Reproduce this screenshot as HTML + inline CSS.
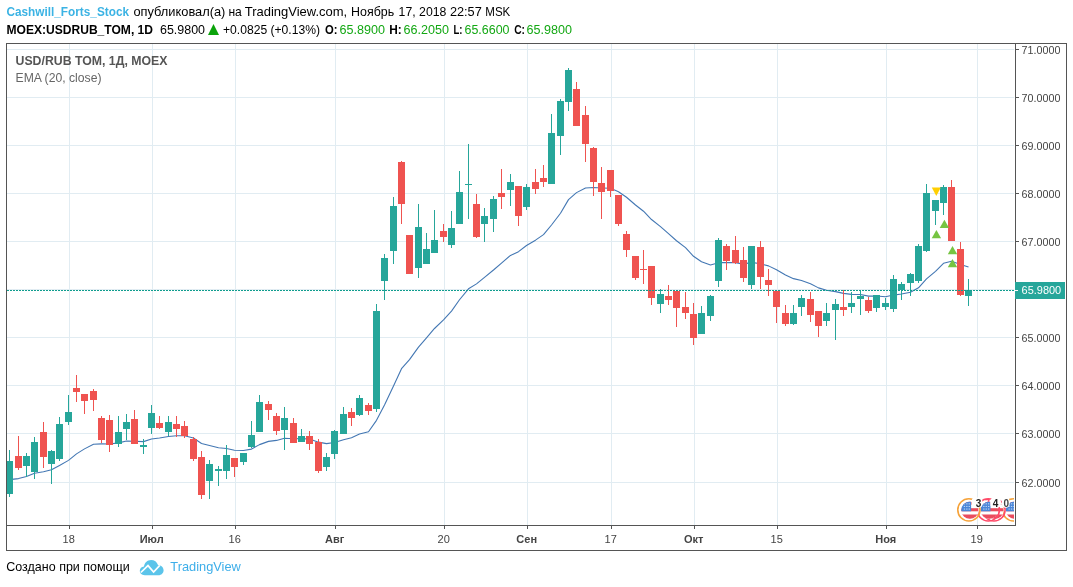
<!DOCTYPE html>
<html><head><meta charset="utf-8"><title>USDRUB_TOM</title>
<style>
html,body{margin:0;padding:0;background:#fff;}
svg{display:block;font-family:"Liberation Sans",sans-serif;will-change:transform;opacity:0.999;}
.ax{font-size:11px;fill:#444;}
.h{font-size:12.5px;fill:#000;}
.b{font-weight:bold;}
.gr{fill:#14a814;}
</style></head><body>
<svg width="1073" height="587" viewBox="0 0 1073 587">
<defs><clipPath id="chartclip"><rect x="7" y="44" width="1008" height="481"/></clipPath><clipPath id="iconclip"><rect x="7" y="44" width="1007" height="481"/></clipPath></defs>
<rect width="1073" height="587" fill="#fff"/>
<!-- header -->
<g class="h">
<text x="6.5" y="15.7" font-size="13" class="b" fill="#3bb3e4" style="fill:#3bb3e4" textLength="122.5" lengthAdjust="spacingAndGlyphs">Cashwill_Forts_Stock</text>
<text x="133.4" y="15.7" font-size="13" textLength="92.0" lengthAdjust="spacingAndGlyphs">опубликовал(а)</text>
<text x="228.4" y="15.7" font-size="13" textLength="13.4" lengthAdjust="spacingAndGlyphs">на</text>
<text x="244.7" y="15.7" font-size="13" textLength="102.5" lengthAdjust="spacingAndGlyphs">TradingView.com,</text>
<text x="351.1" y="15.7" font-size="13" textLength="43.1" lengthAdjust="spacingAndGlyphs">Ноябрь</text>
<text x="398.6" y="15.7" font-size="13" textLength="17.0" lengthAdjust="spacingAndGlyphs">17,</text>
<text x="419.1" y="15.7" font-size="13" textLength="27.3" lengthAdjust="spacingAndGlyphs">2018</text>
<text x="449.9" y="15.7" font-size="13" textLength="31.9" lengthAdjust="spacingAndGlyphs">22:57</text>
<text x="485.3" y="15.7" font-size="13" textLength="25.0" lengthAdjust="spacingAndGlyphs">MSK</text>
<text x="6.5" y="33.5" class="b" textLength="146.5" lengthAdjust="spacingAndGlyphs">MOEX:USDRUB_TOM, 1D</text>
<text x="160" y="33.5" textLength="45" lengthAdjust="spacingAndGlyphs">65.9800</text>
<path d="M208,35 L213.5,24 L219,35 Z" fill="#0ba30b"/>
<text x="223" y="33.5" textLength="97" lengthAdjust="spacingAndGlyphs">+0.0825 (+0.13%)</text>
<text x="325" y="33.5" class="b" textLength="12.5" lengthAdjust="spacingAndGlyphs">O:</text>
<text x="339.5" y="33.5" class="gr" textLength="45.5" lengthAdjust="spacingAndGlyphs">65.8900</text>
<text x="389.2" y="33.5" class="b" textLength="12.5" lengthAdjust="spacingAndGlyphs">H:</text>
<text x="403.5" y="33.5" class="gr" textLength="45.5" lengthAdjust="spacingAndGlyphs">66.2050</text>
<text x="453.5" y="33.5" class="b" textLength="9" lengthAdjust="spacingAndGlyphs">L:</text>
<text x="464.5" y="33.5" class="gr" textLength="45" lengthAdjust="spacingAndGlyphs">65.6600</text>
<text x="514.2" y="33.5" class="b" textLength="10.8" lengthAdjust="spacingAndGlyphs">C:</text>
<text x="526.5" y="33.5" class="gr" textLength="45.5" lengthAdjust="spacingAndGlyphs">65.9800</text>
</g>
<!-- grid -->
<g shape-rendering="crispEdges"><rect x="7" y="49" width="1007" height="1" fill="#e1ecf2"/><rect x="7" y="97" width="1007" height="1" fill="#e1ecf2"/><rect x="7" y="145" width="1007" height="1" fill="#e1ecf2"/><rect x="7" y="193" width="1007" height="1" fill="#e1ecf2"/><rect x="7" y="241" width="1007" height="1" fill="#e1ecf2"/><rect x="7" y="289" width="1007" height="1" fill="#e1ecf2"/><rect x="7" y="337" width="1007" height="1" fill="#e1ecf2"/><rect x="7" y="385" width="1007" height="1" fill="#e1ecf2"/><rect x="7" y="433" width="1007" height="1" fill="#e1ecf2"/><rect x="7" y="482" width="1007" height="1" fill="#e1ecf2"/><rect x="69" y="44" width="1" height="481" fill="#e1ecf2"/><rect x="152" y="44" width="1" height="481" fill="#e1ecf2"/><rect x="235" y="44" width="1" height="481" fill="#e1ecf2"/><rect x="335" y="44" width="1" height="481" fill="#e1ecf2"/><rect x="444" y="44" width="1" height="481" fill="#e1ecf2"/><rect x="527" y="44" width="1" height="481" fill="#e1ecf2"/><rect x="611" y="44" width="1" height="481" fill="#e1ecf2"/><rect x="694" y="44" width="1" height="481" fill="#e1ecf2"/><rect x="777" y="44" width="1" height="481" fill="#e1ecf2"/><rect x="886" y="44" width="1" height="481" fill="#e1ecf2"/><rect x="977" y="44" width="1" height="481" fill="#e1ecf2"/></g>
<!-- legend -->
<text x="15.5" y="65" font-size="12.5" font-weight="bold" fill="#555" textLength="152" lengthAdjust="spacingAndGlyphs">USD/RUB TOM, 1Д, MOEX</text>
<text x="15.5" y="81.7" font-size="12.5" fill="#666" textLength="86" lengthAdjust="spacingAndGlyphs">EMA (20, close)</text>
<!-- candles -->
<g clip-path="url(#chartclip)">
<path d="M1.2,481.30 L9.5,479.67 L18.5,478.58 L26.5,476.46 L34.5,473.21 L43.5,471.69 L51.5,469.75 L59.5,465.42 L68.5,460.36 L76.5,453.88 L84.5,448.87 L93.5,444.25 L101.5,443.87 L109.5,444.01 L118.5,442.89 L126.5,440.93 L134.5,441.25 L143.5,441.64 L151.5,438.94 L159.5,437.93 L168.5,436.44 L176.5,435.76 L184.5,435.81 L193.5,438.05 L201.5,443.50 L209.5,445.48 L218.5,447.75 L226.5,448.47 L234.5,450.26 L243.5,450.55 L251.5,449.10 L259.5,444.64 L268.5,441.37 L276.5,440.41 L284.5,438.31 L293.5,438.78 L301.5,438.55 L309.5,439.09 L318.5,442.16 L326.5,443.60 L334.5,442.43 L343.5,439.75 L351.5,437.71 L359.5,433.96 L368.5,431.80 L376.5,420.32 L384.5,404.89 L393.5,385.98 L401.5,368.68 L409.5,359.69 L418.5,347.08 L426.5,337.77 L434.5,328.48 L443.5,319.80 L451.5,311.09 L459.5,299.77 L468.5,288.78 L476.5,283.87 L484.5,277.44 L493.5,270.00 L501.5,263.07 L510.5,255.38 L518.5,251.66 L526.5,245.53 L535.5,240.17 L543.5,234.66 L551.5,225.01 L560.5,213.23 L568.5,199.61 L576.5,192.63 L585.5,188.03 L593.5,187.48 L601.5,187.94 L610.5,188.26 L618.5,191.69 L626.5,197.28 L635.5,204.99 L643.5,211.21 L651.5,219.51 L660.5,226.63 L668.5,233.65 L676.5,240.76 L685.5,247.66 L693.5,256.30 L701.5,261.73 L710.5,265.02 L718.5,262.66 L726.5,262.53 L735.5,262.61 L743.5,264.10 L751.5,262.41 L760.5,263.82 L768.5,265.87 L776.5,269.82 L785.5,275.00 L793.5,278.65 L801.5,280.52 L810.5,283.84 L818.5,287.88 L826.5,290.30 L835.5,291.63 L843.5,293.41 L851.5,294.35 L860.5,294.54 L868.5,296.13 L876.5,296.06 L885.5,296.75 L893.5,295.08 L901.5,294.06 L910.5,292.18 L918.5,287.81 L926.5,278.81 L935.5,271.33 L943.5,263.33 L951.5,261.23 L960.5,264.47 L968.5,266.93" fill="none" stroke="#4377b3" stroke-width="1.1" stroke-linejoin="round"/>
<g shape-rendering="crispEdges">
<rect x="9" y="450" width="1" height="47" fill="#26a69a"/>
<rect x="6" y="461" width="7" height="33" fill="#26a69a"/>
<rect x="18" y="436" width="1" height="34" fill="#ef5350"/>
<rect x="15" y="456" width="7" height="12" fill="#ef5350"/>
<rect x="26" y="453" width="1" height="24" fill="#26a69a"/>
<rect x="23" y="456" width="7" height="10" fill="#26a69a"/>
<rect x="34" y="437" width="1" height="42" fill="#26a69a"/>
<rect x="31" y="442" width="7" height="30" fill="#26a69a"/>
<rect x="43" y="422" width="1" height="46" fill="#ef5350"/>
<rect x="40" y="432" width="7" height="25" fill="#ef5350"/>
<rect x="51" y="450" width="1" height="34" fill="#26a69a"/>
<rect x="48" y="451" width="7" height="13" fill="#26a69a"/>
<rect x="59" y="417" width="1" height="44" fill="#26a69a"/>
<rect x="56" y="424" width="7" height="35" fill="#26a69a"/>
<rect x="68" y="395" width="1" height="30" fill="#26a69a"/>
<rect x="65" y="412" width="7" height="10" fill="#26a69a"/>
<rect x="76" y="375" width="1" height="27" fill="#ef5350"/>
<rect x="73" y="388" width="7" height="4" fill="#ef5350"/>
<rect x="84" y="394" width="1" height="20" fill="#ef5350"/>
<rect x="81" y="394" width="7" height="7" fill="#ef5350"/>
<rect x="93" y="389" width="1" height="22" fill="#ef5350"/>
<rect x="90" y="391" width="7" height="9" fill="#ef5350"/>
<rect x="101" y="416" width="1" height="27" fill="#ef5350"/>
<rect x="98" y="418" width="7" height="22" fill="#ef5350"/>
<rect x="109" y="415" width="1" height="37" fill="#ef5350"/>
<rect x="106" y="420" width="7" height="25" fill="#ef5350"/>
<rect x="118" y="416" width="1" height="31" fill="#26a69a"/>
<rect x="115" y="432" width="7" height="12" fill="#26a69a"/>
<rect x="126" y="414" width="1" height="26" fill="#26a69a"/>
<rect x="123" y="422" width="7" height="7" fill="#26a69a"/>
<rect x="134" y="410" width="1" height="34" fill="#ef5350"/>
<rect x="131" y="419" width="7" height="25" fill="#ef5350"/>
<rect x="143" y="439" width="1" height="15" fill="#26a69a"/>
<rect x="140" y="445" width="7" height="2" fill="#26a69a"/>
<rect x="151" y="405" width="1" height="29" fill="#26a69a"/>
<rect x="148" y="413" width="7" height="15" fill="#26a69a"/>
<rect x="159" y="416" width="1" height="13" fill="#ef5350"/>
<rect x="156" y="423" width="7" height="5" fill="#ef5350"/>
<rect x="168" y="416" width="1" height="20" fill="#26a69a"/>
<rect x="165" y="422" width="7" height="10" fill="#26a69a"/>
<rect x="176" y="416" width="1" height="21" fill="#ef5350"/>
<rect x="173" y="424" width="7" height="5" fill="#ef5350"/>
<rect x="184" y="421" width="1" height="17" fill="#ef5350"/>
<rect x="181" y="426" width="7" height="10" fill="#ef5350"/>
<rect x="193" y="437" width="1" height="24" fill="#ef5350"/>
<rect x="190" y="439" width="7" height="20" fill="#ef5350"/>
<rect x="201" y="451" width="1" height="48" fill="#ef5350"/>
<rect x="198" y="457" width="7" height="38" fill="#ef5350"/>
<rect x="209" y="460" width="1" height="39" fill="#26a69a"/>
<rect x="206" y="464" width="7" height="17" fill="#26a69a"/>
<rect x="218" y="466" width="1" height="20" fill="#26a69a"/>
<rect x="215" y="469" width="7" height="2" fill="#26a69a"/>
<rect x="226" y="445" width="1" height="34" fill="#26a69a"/>
<rect x="223" y="455" width="7" height="16" fill="#26a69a"/>
<rect x="234" y="458" width="1" height="19" fill="#ef5350"/>
<rect x="231" y="458" width="7" height="9" fill="#ef5350"/>
<rect x="243" y="453" width="1" height="12" fill="#26a69a"/>
<rect x="240" y="453" width="7" height="9" fill="#26a69a"/>
<rect x="251" y="421" width="1" height="27" fill="#26a69a"/>
<rect x="248" y="435" width="7" height="12" fill="#26a69a"/>
<rect x="259" y="395" width="1" height="37" fill="#26a69a"/>
<rect x="256" y="402" width="7" height="30" fill="#26a69a"/>
<rect x="268" y="401" width="1" height="19" fill="#ef5350"/>
<rect x="265" y="404" width="7" height="6" fill="#ef5350"/>
<rect x="276" y="413" width="1" height="22" fill="#ef5350"/>
<rect x="273" y="416" width="7" height="15" fill="#ef5350"/>
<rect x="284" y="407" width="1" height="43" fill="#26a69a"/>
<rect x="281" y="418" width="7" height="12" fill="#26a69a"/>
<rect x="293" y="418" width="1" height="25" fill="#ef5350"/>
<rect x="290" y="423" width="7" height="20" fill="#ef5350"/>
<rect x="301" y="429" width="1" height="13" fill="#26a69a"/>
<rect x="298" y="436" width="7" height="6" fill="#26a69a"/>
<rect x="309" y="431" width="1" height="19" fill="#ef5350"/>
<rect x="306" y="436" width="7" height="8" fill="#ef5350"/>
<rect x="318" y="439" width="1" height="34" fill="#ef5350"/>
<rect x="315" y="442" width="7" height="29" fill="#ef5350"/>
<rect x="326" y="453" width="1" height="18" fill="#26a69a"/>
<rect x="323" y="457" width="7" height="10" fill="#26a69a"/>
<rect x="334" y="430" width="1" height="29" fill="#26a69a"/>
<rect x="331" y="431" width="7" height="23" fill="#26a69a"/>
<rect x="343" y="407" width="1" height="27" fill="#26a69a"/>
<rect x="340" y="414" width="7" height="20" fill="#26a69a"/>
<rect x="351" y="408" width="1" height="18" fill="#ef5350"/>
<rect x="348" y="412" width="7" height="6" fill="#ef5350"/>
<rect x="359" y="395" width="1" height="21" fill="#26a69a"/>
<rect x="356" y="398" width="7" height="17" fill="#26a69a"/>
<rect x="368" y="403" width="1" height="12" fill="#ef5350"/>
<rect x="365" y="405" width="7" height="6" fill="#ef5350"/>
<rect x="376" y="304" width="1" height="108" fill="#26a69a"/>
<rect x="373" y="311" width="7" height="98" fill="#26a69a"/>
<rect x="384" y="254" width="1" height="46" fill="#26a69a"/>
<rect x="381" y="258" width="7" height="23" fill="#26a69a"/>
<rect x="393" y="197" width="1" height="67" fill="#26a69a"/>
<rect x="390" y="206" width="7" height="45" fill="#26a69a"/>
<rect x="401" y="161" width="1" height="63" fill="#ef5350"/>
<rect x="398" y="162" width="7" height="42" fill="#ef5350"/>
<rect x="409" y="235" width="1" height="39" fill="#ef5350"/>
<rect x="406" y="235" width="7" height="39" fill="#ef5350"/>
<rect x="418" y="204" width="1" height="74" fill="#26a69a"/>
<rect x="415" y="227" width="7" height="41" fill="#26a69a"/>
<rect x="426" y="233" width="1" height="31" fill="#26a69a"/>
<rect x="423" y="249" width="7" height="15" fill="#26a69a"/>
<rect x="434" y="210" width="1" height="43" fill="#26a69a"/>
<rect x="431" y="240" width="7" height="13" fill="#26a69a"/>
<rect x="443" y="224" width="1" height="18" fill="#ef5350"/>
<rect x="440" y="231" width="7" height="6" fill="#ef5350"/>
<rect x="451" y="211" width="1" height="37" fill="#26a69a"/>
<rect x="448" y="228" width="7" height="17" fill="#26a69a"/>
<rect x="459" y="171" width="1" height="53" fill="#26a69a"/>
<rect x="456" y="192" width="7" height="32" fill="#26a69a"/>
<rect x="468" y="144" width="1" height="75" fill="#26a69a"/>
<rect x="465" y="184" width="7" height="1" fill="#26a69a"/>
<rect x="476" y="194" width="1" height="44" fill="#ef5350"/>
<rect x="473" y="204" width="7" height="33" fill="#ef5350"/>
<rect x="484" y="208" width="1" height="34" fill="#26a69a"/>
<rect x="481" y="216" width="7" height="8" fill="#26a69a"/>
<rect x="493" y="196" width="1" height="36" fill="#26a69a"/>
<rect x="490" y="199" width="7" height="20" fill="#26a69a"/>
<rect x="501" y="169" width="1" height="40" fill="#ef5350"/>
<rect x="498" y="193" width="7" height="4" fill="#ef5350"/>
<rect x="510" y="174" width="1" height="32" fill="#26a69a"/>
<rect x="507" y="182" width="7" height="8" fill="#26a69a"/>
<rect x="518" y="186" width="1" height="40" fill="#ef5350"/>
<rect x="515" y="186" width="7" height="30" fill="#ef5350"/>
<rect x="526" y="184" width="1" height="26" fill="#26a69a"/>
<rect x="523" y="187" width="7" height="20" fill="#26a69a"/>
<rect x="535" y="169" width="1" height="25" fill="#ef5350"/>
<rect x="532" y="182" width="7" height="7" fill="#ef5350"/>
<rect x="543" y="165" width="1" height="22" fill="#ef5350"/>
<rect x="540" y="178" width="7" height="4" fill="#ef5350"/>
<rect x="551" y="114" width="1" height="70" fill="#26a69a"/>
<rect x="548" y="133" width="7" height="51" fill="#26a69a"/>
<rect x="560" y="99" width="1" height="56" fill="#26a69a"/>
<rect x="557" y="101" width="7" height="35" fill="#26a69a"/>
<rect x="568" y="68" width="1" height="43" fill="#26a69a"/>
<rect x="565" y="70" width="7" height="32" fill="#26a69a"/>
<rect x="576" y="82" width="1" height="44" fill="#ef5350"/>
<rect x="573" y="89" width="7" height="37" fill="#ef5350"/>
<rect x="585" y="106" width="1" height="56" fill="#ef5350"/>
<rect x="582" y="115" width="7" height="29" fill="#ef5350"/>
<rect x="593" y="147" width="1" height="49" fill="#ef5350"/>
<rect x="590" y="148" width="7" height="34" fill="#ef5350"/>
<rect x="601" y="167" width="1" height="52" fill="#ef5350"/>
<rect x="598" y="183" width="7" height="9" fill="#ef5350"/>
<rect x="610" y="170" width="1" height="27" fill="#ef5350"/>
<rect x="607" y="170" width="7" height="21" fill="#ef5350"/>
<rect x="618" y="195" width="1" height="31" fill="#ef5350"/>
<rect x="615" y="195" width="7" height="29" fill="#ef5350"/>
<rect x="626" y="231" width="1" height="26" fill="#ef5350"/>
<rect x="623" y="234" width="7" height="16" fill="#ef5350"/>
<rect x="635" y="256" width="1" height="24" fill="#ef5350"/>
<rect x="632" y="256" width="7" height="22" fill="#ef5350"/>
<rect x="643" y="250" width="1" height="34" fill="#ef5350"/>
<rect x="640" y="269" width="7" height="1" fill="#ef5350"/>
<rect x="651" y="266" width="1" height="39" fill="#ef5350"/>
<rect x="648" y="266" width="7" height="32" fill="#ef5350"/>
<rect x="660" y="289" width="1" height="24" fill="#26a69a"/>
<rect x="657" y="294" width="7" height="10" fill="#26a69a"/>
<rect x="668" y="285" width="1" height="20" fill="#ef5350"/>
<rect x="665" y="296" width="7" height="4" fill="#ef5350"/>
<rect x="676" y="291" width="1" height="36" fill="#ef5350"/>
<rect x="673" y="291" width="7" height="17" fill="#ef5350"/>
<rect x="685" y="292" width="1" height="27" fill="#ef5350"/>
<rect x="682" y="307" width="7" height="6" fill="#ef5350"/>
<rect x="693" y="303" width="1" height="42" fill="#ef5350"/>
<rect x="690" y="314" width="7" height="24" fill="#ef5350"/>
<rect x="701" y="306" width="1" height="28" fill="#26a69a"/>
<rect x="698" y="313" width="7" height="21" fill="#26a69a"/>
<rect x="710" y="295" width="1" height="26" fill="#26a69a"/>
<rect x="707" y="296" width="7" height="20" fill="#26a69a"/>
<rect x="718" y="238" width="1" height="49" fill="#26a69a"/>
<rect x="715" y="240" width="7" height="41" fill="#26a69a"/>
<rect x="726" y="244" width="1" height="26" fill="#ef5350"/>
<rect x="723" y="246" width="7" height="15" fill="#ef5350"/>
<rect x="735" y="236" width="1" height="28" fill="#ef5350"/>
<rect x="732" y="250" width="7" height="13" fill="#ef5350"/>
<rect x="743" y="247" width="1" height="35" fill="#ef5350"/>
<rect x="740" y="260" width="7" height="18" fill="#ef5350"/>
<rect x="751" y="246" width="1" height="43" fill="#26a69a"/>
<rect x="748" y="246" width="7" height="39" fill="#26a69a"/>
<rect x="760" y="241" width="1" height="48" fill="#ef5350"/>
<rect x="757" y="247" width="7" height="30" fill="#ef5350"/>
<rect x="768" y="269" width="1" height="27" fill="#ef5350"/>
<rect x="765" y="280" width="7" height="5" fill="#ef5350"/>
<rect x="776" y="291" width="1" height="32" fill="#ef5350"/>
<rect x="773" y="291" width="7" height="16" fill="#ef5350"/>
<rect x="785" y="305" width="1" height="21" fill="#ef5350"/>
<rect x="782" y="313" width="7" height="11" fill="#ef5350"/>
<rect x="793" y="305" width="1" height="20" fill="#26a69a"/>
<rect x="790" y="313" width="7" height="11" fill="#26a69a"/>
<rect x="801" y="295" width="1" height="21" fill="#26a69a"/>
<rect x="798" y="298" width="7" height="9" fill="#26a69a"/>
<rect x="810" y="292" width="1" height="30" fill="#ef5350"/>
<rect x="807" y="299" width="7" height="16" fill="#ef5350"/>
<rect x="818" y="311" width="1" height="26" fill="#ef5350"/>
<rect x="815" y="311" width="7" height="15" fill="#ef5350"/>
<rect x="826" y="303" width="1" height="23" fill="#26a69a"/>
<rect x="823" y="313" width="7" height="8" fill="#26a69a"/>
<rect x="835" y="299" width="1" height="41" fill="#26a69a"/>
<rect x="832" y="304" width="7" height="6" fill="#26a69a"/>
<rect x="843" y="290" width="1" height="26" fill="#ef5350"/>
<rect x="840" y="307" width="7" height="3" fill="#ef5350"/>
<rect x="851" y="292" width="1" height="21" fill="#26a69a"/>
<rect x="848" y="303" width="7" height="4" fill="#26a69a"/>
<rect x="860" y="291" width="1" height="24" fill="#26a69a"/>
<rect x="857" y="296" width="7" height="3" fill="#26a69a"/>
<rect x="868" y="297" width="1" height="16" fill="#ef5350"/>
<rect x="865" y="300" width="7" height="11" fill="#ef5350"/>
<rect x="876" y="295" width="1" height="17" fill="#26a69a"/>
<rect x="873" y="295" width="7" height="13" fill="#26a69a"/>
<rect x="885" y="298" width="1" height="12" fill="#26a69a"/>
<rect x="882" y="303" width="7" height="4" fill="#26a69a"/>
<rect x="893" y="275" width="1" height="37" fill="#26a69a"/>
<rect x="890" y="279" width="7" height="30" fill="#26a69a"/>
<rect x="901" y="282" width="1" height="18" fill="#26a69a"/>
<rect x="898" y="284" width="7" height="6" fill="#26a69a"/>
<rect x="910" y="273" width="1" height="23" fill="#26a69a"/>
<rect x="907" y="274" width="7" height="9" fill="#26a69a"/>
<rect x="918" y="244" width="1" height="39" fill="#26a69a"/>
<rect x="915" y="246" width="7" height="35" fill="#26a69a"/>
<rect x="926" y="184" width="1" height="68" fill="#26a69a"/>
<rect x="923" y="193" width="7" height="58" fill="#26a69a"/>
<rect x="935" y="200" width="1" height="25" fill="#26a69a"/>
<rect x="932" y="200" width="7" height="11" fill="#26a69a"/>
<rect x="943" y="185" width="1" height="30" fill="#26a69a"/>
<rect x="940" y="187" width="7" height="16" fill="#26a69a"/>
<rect x="951" y="180" width="1" height="61" fill="#ef5350"/>
<rect x="948" y="187" width="7" height="54" fill="#ef5350"/>
<rect x="960" y="242" width="1" height="54" fill="#ef5350"/>
<rect x="957" y="249" width="7" height="46" fill="#ef5350"/>
<rect x="968" y="279" width="1" height="27" fill="#26a69a"/>
<rect x="965" y="290" width="7" height="6" fill="#26a69a"/>
</g>
<path d="M931.8,187.4 L940.8,187.4 L936.3,195.9 Z" fill="#ffce00"/><path d="M936.4,230 L941.1,238.2 L931.6999999999999,238.2 Z" fill="#76c442"/><path d="M944.4,219.8 L949.1,228.0 L939.6999999999999,228.0 Z" fill="#76c442"/><path d="M952.5,246.1 L957.2,254.29999999999998 L947.8,254.29999999999998 Z" fill="#76c442"/><path d="M952.5,259.1 L957.2,267.3 L947.8,267.3 Z" fill="#76c442"/>
<line x1="7" y1="290.5" x2="1015" y2="290.5" stroke="#0f9d8e" stroke-width="1" stroke-dasharray="2 1" shape-rendering="crispEdges"/>
</g>
<g clip-path="url(#iconclip)"><clipPath id="fl3"><circle cx="1014.6" cy="510.2" r="8.7"/></clipPath><g clip-path="url(#fl3)"><rect x="1005.9" y="501.5" width="17.4" height="17.4" fill="#fff"/><rect x="1005.9" y="501.4" width="17.4" height="3.2" fill="#ea4c5e"/><rect x="1005.9" y="508.2" width="17.4" height="3.1" fill="#ea4c5e"/><rect x="1005.9" y="514.5" width="17.4" height="4.3" fill="#ea4c5e"/><rect x="1005.9" y="501.5" width="9.899999999999999" height="9.8" fill="#4a86d8"/><rect x="1008.5" y="503.3" width="1.3" height="1.1" fill="#bcd4f5"/><rect x="1010.9" y="503.3" width="1.3" height="1.1" fill="#bcd4f5"/><rect x="1013.3" y="503.3" width="1.3" height="1.1" fill="#bcd4f5"/><rect x="1008.5" y="505.9" width="1.3" height="1.1" fill="#bcd4f5"/><rect x="1010.9" y="505.9" width="1.3" height="1.1" fill="#bcd4f5"/><rect x="1013.3" y="505.9" width="1.3" height="1.1" fill="#bcd4f5"/><rect x="1008.5" y="508.5" width="1.3" height="1.1" fill="#bcd4f5"/><rect x="1010.9" y="508.5" width="1.3" height="1.1" fill="#bcd4f5"/><rect x="1013.3" y="508.5" width="1.3" height="1.1" fill="#bcd4f5"/></g><circle cx="1013.6" cy="509.9" r="11.1" fill="none" stroke="#f6a33a" stroke-width="1.6"/><clipPath id="fl2"><circle cx="995" cy="510.2" r="8.7"/></clipPath><g clip-path="url(#fl2)"><rect x="986.3" y="501.5" width="17.4" height="17.4" fill="#fff"/><rect x="986.3" y="501.4" width="17.4" height="3.2" fill="#ea4c5e"/><rect x="986.3" y="508.2" width="17.4" height="3.1" fill="#ea4c5e"/><rect x="986.3" y="514.5" width="17.4" height="4.3" fill="#ea4c5e"/><rect x="986.3" y="501.5" width="9.899999999999999" height="9.8" fill="#4a86d8"/><rect x="988.9" y="503.3" width="1.3" height="1.1" fill="#bcd4f5"/><rect x="991.3" y="503.3" width="1.3" height="1.1" fill="#bcd4f5"/><rect x="993.7" y="503.3" width="1.3" height="1.1" fill="#bcd4f5"/><rect x="988.9" y="505.9" width="1.3" height="1.1" fill="#bcd4f5"/><rect x="991.3" y="505.9" width="1.3" height="1.1" fill="#bcd4f5"/><rect x="993.7" y="505.9" width="1.3" height="1.1" fill="#bcd4f5"/><rect x="988.9" y="508.5" width="1.3" height="1.1" fill="#bcd4f5"/><rect x="991.3" y="508.5" width="1.3" height="1.1" fill="#bcd4f5"/><rect x="993.7" y="508.5" width="1.3" height="1.1" fill="#bcd4f5"/></g><circle cx="994" cy="509.9" r="11.1" fill="none" stroke="#ff4a68" stroke-width="1.6"/><rect x="982.4000000000001" y="497.4" width="9.6" height="10.4" rx="4" fill="#fff"/><text x="987.2" y="506.9" text-anchor="middle" font-size="10" font-weight="bold" fill="#ff4a68">7</text><clipPath id="fl1"><circle cx="989.3" cy="510.2" r="8.7"/></clipPath><g clip-path="url(#fl1)"><rect x="980.5999999999999" y="501.5" width="17.4" height="17.4" fill="#fff"/><rect x="980.5999999999999" y="501.4" width="17.4" height="3.2" fill="#ea4c5e"/><rect x="980.5999999999999" y="508.2" width="17.4" height="3.1" fill="#ea4c5e"/><rect x="980.5999999999999" y="514.5" width="17.4" height="4.3" fill="#ea4c5e"/><rect x="980.5999999999999" y="501.5" width="9.899999999999999" height="9.8" fill="#4a86d8"/><rect x="983.2" y="503.3" width="1.3" height="1.1" fill="#bcd4f5"/><rect x="985.6" y="503.3" width="1.3" height="1.1" fill="#bcd4f5"/><rect x="988.0" y="503.3" width="1.3" height="1.1" fill="#bcd4f5"/><rect x="983.2" y="505.9" width="1.3" height="1.1" fill="#bcd4f5"/><rect x="985.6" y="505.9" width="1.3" height="1.1" fill="#bcd4f5"/><rect x="988.0" y="505.9" width="1.3" height="1.1" fill="#bcd4f5"/><rect x="983.2" y="508.5" width="1.3" height="1.1" fill="#bcd4f5"/><rect x="985.6" y="508.5" width="1.3" height="1.1" fill="#bcd4f5"/><rect x="988.0" y="508.5" width="1.3" height="1.1" fill="#bcd4f5"/></g><circle cx="988.3" cy="509.9" r="11.1" fill="none" stroke="#ff4a68" stroke-width="1.6"/><clipPath id="fl0"><circle cx="969.9" cy="510.2" r="8.7"/></clipPath><g clip-path="url(#fl0)"><rect x="961.1999999999999" y="501.5" width="17.4" height="17.4" fill="#fff"/><rect x="961.1999999999999" y="501.4" width="17.4" height="3.2" fill="#ea4c5e"/><rect x="961.1999999999999" y="508.2" width="17.4" height="3.1" fill="#ea4c5e"/><rect x="961.1999999999999" y="514.5" width="17.4" height="4.3" fill="#ea4c5e"/><rect x="961.1999999999999" y="501.5" width="9.899999999999999" height="9.8" fill="#4a86d8"/><rect x="963.8" y="503.3" width="1.3" height="1.1" fill="#bcd4f5"/><rect x="966.2" y="503.3" width="1.3" height="1.1" fill="#bcd4f5"/><rect x="968.6" y="503.3" width="1.3" height="1.1" fill="#bcd4f5"/><rect x="963.8" y="505.9" width="1.3" height="1.1" fill="#bcd4f5"/><rect x="966.2" y="505.9" width="1.3" height="1.1" fill="#bcd4f5"/><rect x="968.6" y="505.9" width="1.3" height="1.1" fill="#bcd4f5"/><rect x="963.8" y="508.5" width="1.3" height="1.1" fill="#bcd4f5"/><rect x="966.2" y="508.5" width="1.3" height="1.1" fill="#bcd4f5"/><rect x="968.6" y="508.5" width="1.3" height="1.1" fill="#bcd4f5"/></g><circle cx="968.9" cy="509.9" r="11.1" fill="none" stroke="#f6a33a" stroke-width="1.6"/><rect x="971.5" y="497.4" width="10.9" height="10.4" rx="4" fill="#fff"/><text x="978.6" y="506.9" text-anchor="middle" font-size="10" font-weight="bold" fill="#222">3</text><rect x="990.2" y="497.4" width="10.7" height="10.4" rx="4" fill="#fff"/><text x="995.6" y="506.9" text-anchor="middle" font-size="10" font-weight="bold" fill="#222">4</text><rect x="1001.8" y="497.4" width="7.8" height="10.4" rx="4" fill="#fff"/><text x="1006.2" y="506.9" text-anchor="middle" font-size="10" font-weight="bold" fill="#444">0</text></g>
<!-- frame -->
<g shape-rendering="crispEdges" fill="#555">
<rect x="6" y="43" width="1061" height="1"/>
<rect x="6" y="43" width="1" height="508"/>
<rect x="1066" y="43" width="1" height="508"/>
<rect x="6" y="550" width="1061" height="1"/>
<rect x="6" y="525" width="1010" height="1"/>
<rect x="1015" y="43" width="1" height="483"/>
<rect x="1016" y="49" width="3" height="1" fill="#555"/><text x="1021.6" y="53.5" class="ax" textLength="38.8" lengthAdjust="spacingAndGlyphs">71.0000</text><rect x="1016" y="97" width="3" height="1" fill="#555"/><text x="1021.6" y="101.5" class="ax" textLength="38.8" lengthAdjust="spacingAndGlyphs">70.0000</text><rect x="1016" y="145" width="3" height="1" fill="#555"/><text x="1021.6" y="149.5" class="ax" textLength="38.8" lengthAdjust="spacingAndGlyphs">69.0000</text><rect x="1016" y="193" width="3" height="1" fill="#555"/><text x="1021.6" y="197.5" class="ax" textLength="38.8" lengthAdjust="spacingAndGlyphs">68.0000</text><rect x="1016" y="241" width="3" height="1" fill="#555"/><text x="1021.6" y="245.5" class="ax" textLength="38.8" lengthAdjust="spacingAndGlyphs">67.0000</text><rect x="1016" y="289" width="3" height="1" fill="#555"/><rect x="1016" y="337" width="3" height="1" fill="#555"/><text x="1021.6" y="341.5" class="ax" textLength="38.8" lengthAdjust="spacingAndGlyphs">65.0000</text><rect x="1016" y="385" width="3" height="1" fill="#555"/><text x="1021.6" y="389.5" class="ax" textLength="38.8" lengthAdjust="spacingAndGlyphs">64.0000</text><rect x="1016" y="433" width="3" height="1" fill="#555"/><text x="1021.6" y="437.5" class="ax" textLength="38.8" lengthAdjust="spacingAndGlyphs">63.0000</text><rect x="1016" y="482" width="3" height="1" fill="#555"/><text x="1021.6" y="486.5" class="ax" textLength="38.8" lengthAdjust="spacingAndGlyphs">62.0000</text>
<rect x="69" y="526" width="1" height="3" fill="#555"/><text x="68.7" y="542.8" text-anchor="middle" class="ax">18</text><rect x="152" y="526" width="1" height="3" fill="#555"/><text x="151.7" y="542.8" text-anchor="middle" class="ax" font-weight="bold">Июл</text><rect x="235" y="526" width="1" height="3" fill="#555"/><text x="234.7" y="542.8" text-anchor="middle" class="ax">16</text><rect x="335" y="526" width="1" height="3" fill="#555"/><text x="334.7" y="542.8" text-anchor="middle" class="ax" font-weight="bold">Авг</text><rect x="444" y="526" width="1" height="3" fill="#555"/><text x="443.7" y="542.8" text-anchor="middle" class="ax">20</text><rect x="527" y="526" width="1" height="3" fill="#555"/><text x="526.7" y="542.8" text-anchor="middle" class="ax" font-weight="bold">Сен</text><rect x="611" y="526" width="1" height="3" fill="#555"/><text x="610.7" y="542.8" text-anchor="middle" class="ax">17</text><rect x="694" y="526" width="1" height="3" fill="#555"/><text x="693.7" y="542.8" text-anchor="middle" class="ax" font-weight="bold">Окт</text><rect x="777" y="526" width="1" height="3" fill="#555"/><text x="776.7" y="542.8" text-anchor="middle" class="ax">15</text><rect x="886" y="526" width="1" height="3" fill="#555"/><text x="885.7" y="542.8" text-anchor="middle" class="ax" font-weight="bold">Ноя</text><rect x="977" y="526" width="1" height="3" fill="#555"/><text x="976.7" y="542.8" text-anchor="middle" class="ax">19</text>
<rect x="1015" y="282" width="50" height="17" fill="#26a69a"/>
<rect x="1015" y="290" width="3" height="1" fill="#fff"/>
</g>
<text x="1021.6" y="294" font-size="11" fill="#fff" textLength="39.6" lengthAdjust="spacingAndGlyphs">65.9800</text>
<!-- footer -->
<text x="6.3" y="571" font-size="13" fill="#000" textLength="123.5" lengthAdjust="spacingAndGlyphs">Создано при помощи</text>
<g transform="translate(139.8,560)">
<path d="M5,15.2 C1.5,15.2 0,13 0,10.8 C0,8.4 1.8,6.6 4.2,6.5 C4.6,2.9 7.5,0 11.3,0 C14.6,0 17.2,2 18.2,4.9 C21.3,5 23.8,7.3 23.8,10.2 C23.8,13 21.6,15.2 18.6,15.2 Z" fill="#5bc4ea"/>
<path d="M1,12.5 L8.2,5.6 L13.8,12 L20,5.4" fill="none" stroke="#fff" stroke-width="1.7" stroke-linejoin="miter"/>
</g>
<text x="170.3" y="570.8" font-size="13" fill="#3daee9" textLength="70.5" lengthAdjust="spacingAndGlyphs">TradingView</text>
</svg>
</body></html>
